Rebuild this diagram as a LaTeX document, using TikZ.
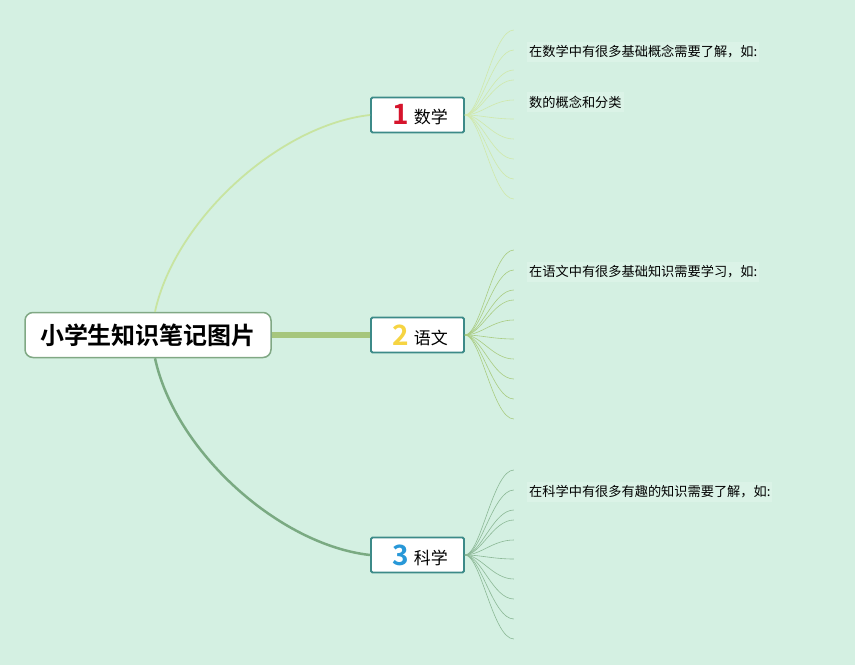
\documentclass[tikz,border=0pt]{standalone}
\usepackage{fontspec}
\setmainfont{Noto Sans CJK SC}
\newfontfamily\cjkb{Noto Sans CJK SC Bold}
\usetikzlibrary{calc}
\definecolor{bgc}{RGB}{212,240,226}
\definecolor{leafbg}{RGB}{219,243,231}
\definecolor{rootborder}{RGB}{128,168,132}
\definecolor{boxborder}{RGB}{60,138,136}
\definecolor{lineA}{RGB}{200,228,160}
\definecolor{lineB}{RGB}{166,198,124}
\definecolor{lineC}{RGB}{122,170,130}
\definecolor{leafA}{RGB}{208,232,170}
\definecolor{leafB}{RGB}{170,204,130}
\definecolor{leafC}{RGB}{140,184,150}
\definecolor{numred}{RGB}{214,20,44}
\definecolor{numyellow}{RGB}{246,212,66}
\definecolor{numblue}{RGB}{40,152,216}
\tikzset{
  rootbox/.style={draw=rootborder, line width=1.5pt, fill=white, rounded corners=8pt,
    minimum width=246pt, minimum height=45pt, inner sep=0pt, font=\cjkb\fontsize{24}{28}\selectfont},
  branchbox/.style={draw=boxborder, line width=1.8pt, fill=white, rounded corners=1.5pt,
    minimum width=93pt, minimum height=35pt, inner sep=0pt, font=\fontsize{17}{20}\selectfont},
  leaftext/.style={anchor=west, fill=leafbg, inner xsep=2pt, inner ysep=4pt, font=\fontsize{13.2}{16}\selectfont},
  leafline/.style={line width=0.6pt},
}
\newcommand{\numA}[2]{\hspace*{5pt}\textcolor{#1}{\cjkb\fontsize{28}{28}\selectfont\raisebox{-1pt}{#2}}\hspace{5pt}}
\begin{document}
\begin{tikzpicture}[x=1pt,y=-1pt]
\fill[bgc] (0,0) rectangle (855,665);
\useasboundingbox (0,0) rectangle (855,665);

% root and branches
\node[rootbox] (root) at (148,335) {小学生知识笔记图片};
\node[branchbox] (b1) at (417.5,115) {\numA{numred}{1}数学};
\node[branchbox] (b2) at (417.5,335) {\numA{numyellow}{2}语文};
\node[branchbox] (b3) at (417.5,555) {\numA{numblue}{3}科学};

% main connectors
\draw[lineA, line width=1.8pt] ([xshift=7pt]root.north) .. controls ($([xshift=7pt]root.north)+(20,-92)$) and ($(b1.west)+(-91,10)$) .. (b1.west);
\draw[lineB, line width=6pt] (root.east) -- (b2.west);
\draw[lineC, line width=2.5pt] ([xshift=7pt]root.south) .. controls ($([xshift=7pt]root.south)+(20,93)$) and ($(b3.west)+(-91,-10)$) .. (b3.west);

% leaf fans
\foreach \b/\c in {b1/leafA, b2/leafB, b3/leafC}{
  \foreach \d in {-85,-65,-45,-35,-15,4,24,44,64,84}{
    \draw[leafline, \c] (\b.east) .. controls ($(\b.east)+(16,0)$) and ($(\b.east)+(28,\d)$) .. ($(\b.east)+(49,\d)$);
  }
}

% leaf texts
\node[leaftext] (t1a) at (527,52) {在数学中有很多基础概念需要了解，如:};
\node[leaftext] (t1b) at (527,102) {数的概念和分类};
\node[leaftext] (t2a) at (527,272) {在语文中有很多基础知识需要学习，如:};
\node[leaftext] (t3a) at (527,492) {在科学中有很多有趣的知识需要了解，如:};
\end{tikzpicture}
\end{document}
